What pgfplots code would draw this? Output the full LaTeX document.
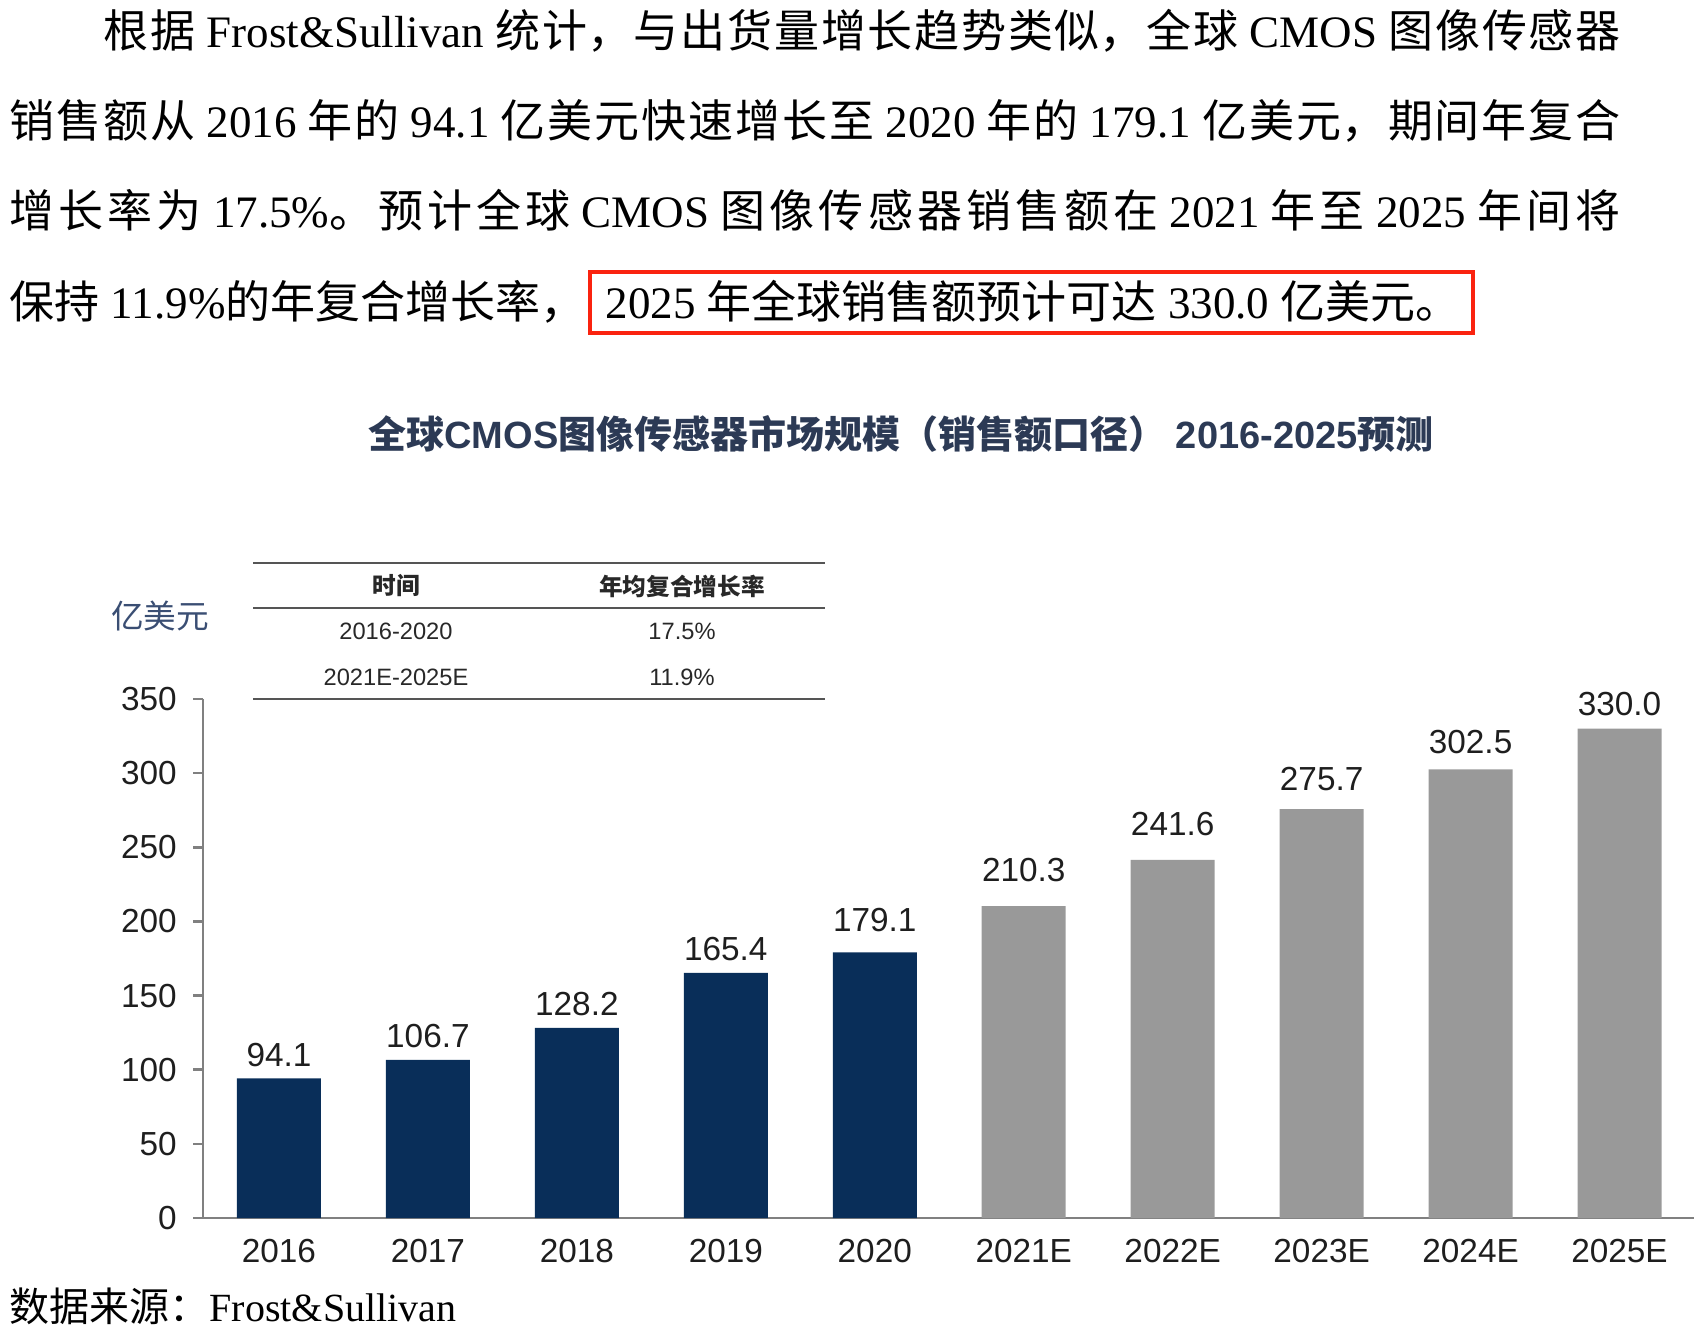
\documentclass[border=0pt]{standalone}
\usepackage{fontspec}
\usepackage{pgfplots}
\pgfplotsset{compat=1.18}
\setmainfont{Liberation Serif}
\newfontfamily\arial{Liberation Sans}
\newfontfamily\cjk{Noto Sans CJK SC}
\definecolor{navy}{RGB}{9,46,89}
\definecolor{bargray}{RGB}{153,153,153}
\definecolor{axgray}{RGB}{128,128,128}
\definecolor{titlec}{RGB}{44,58,85}
\definecolor{unitc}{RGB}{58,78,115}
\definecolor{boxred}{RGB}{250,35,15}
\definecolor{txt}{RGB}{30,30,30}
\definecolor{tabline}{RGB}{85,85,85}
\newcommand\C[1]{{\cjk #1}}
\newcommand\jline[2]{\parbox[b]{#1}{\XeTeXlinebreaklocale "zh"\XeTeXlinebreakskip=0pt plus 1fil minus 0.5pt\relax\parfillskip=0pt\relax\tolerance=10000\relax\noindent #2}}
\begin{document}
\begin{tikzpicture}
\useasboundingbox (0,0) rectangle (510.9pt,-402pt);
% paragraph
\begin{scope}[every node/.style={inner sep=0pt, anchor=base west, text=black}]
\node at (30.9pt,-14.1pt) {\fontsize{13.5}{16}\selectfont\jline{455.1pt}{\C{根据} Frost\&Sullivan \C{统计，与出货量增长趋势类似，全球} CMOS \C{图像传感器}}};
\node at (2.7pt,-41.1pt) {\fontsize{13.5}{16}\selectfont\jline{483.3pt}{\C{销售额从} 2016 \C{年的} 94.1 \C{亿美元快速增长至} 2020 \C{年的} 179.1 \C{亿美元，期间年复合}}};
\node at (2.7pt,-68.1pt) {\fontsize{13.5}{16}\selectfont\jline{483.3pt}{\C{增长率为} 17.5\%\C{。预计全球} CMOS \C{图像传感器销售额在} 2021 \C{年至} 2025 \C{年间将}}};
\node at (2.7pt,-95.4pt) {\fontsize{13.5}{16}\selectfont \C{保持} 11.9\%\C{的年复合增长率，}};
\node at (181.5pt,-95.4pt) {\fontsize{13.5}{16}\selectfont 2025 \C{年全球销售额预计可达} 330.0 \C{亿美元。}};
\end{scope}
\draw[boxred, line width=1.2pt] (177pt,-81.6pt) rectangle (441.9pt,-99.9pt);
% title
\node[inner sep=0pt, text=titlec] at (270.3pt,-130.2pt) {\bfseries\fontsize{11.4}{13}\selectfont\C{全球}{\arial CMOS}\C{图像传感器市场规模（销售额口径）} {\arial 2016-2025}\C{预测}};
% unit
\node[inner sep=0pt, text=unitc] at (48pt,-184.8pt) {\fontsize{9.8}{11}\selectfont\C{亿美元}};
% table
\draw[tabline, line width=0.8pt] (75.9pt,-168.9pt) -- (247.5pt,-168.9pt);
\draw[tabline, line width=0.8pt] (75.9pt,-182.4pt) -- (247.5pt,-182.4pt);
\draw[tabline, line width=0.8pt] (75.9pt,-209.7pt) -- (247.5pt,-209.7pt);
\begin{scope}[every node/.style={inner sep=0pt, text={rgb,255:red,40;green,40;blue,40}}]
\node at (118.8pt,-175.8pt) {\bfseries\fontsize{7.1}{8}\selectfont\C{时间}};
\node at (204.6pt,-175.8pt) {\bfseries\fontsize{7.1}{8}\selectfont\C{年均复合增长率}};
\node at (118.8pt,-189.3pt) {\arial\fontsize{7.1}{8}\selectfont 2016-2020};
\node at (204.6pt,-189.3pt) {\arial\fontsize{7.1}{8}\selectfont 17.5\%};
\node at (118.8pt,-203.1pt) {\arial\fontsize{7.1}{8}\selectfont 2021E-2025E};
\node at (204.6pt,-203.1pt) {\arial\fontsize{7.1}{8}\selectfont 11.9\%};
\end{scope}
% source
\node[inner sep=0pt, anchor=west] at (2.7pt,-391.8pt) {\fontsize{12}{14}\selectfont\C{数据来源：}Frost\&Sullivan};
\begin{axis}[
  at={(60.9pt,-365.4pt)}, anchor=south west,
  scale only axis, width=447.3pt, height=155.7pt,
  xmin=-0.51, xmax=9.5, ymin=0, ymax=350,
  axis x line*=bottom, axis y line*=left,
  axis line style={axgray, line width=0.8pt, -},
  ytick={0,50,...,350}, tick align=outside, major tick length=3pt,
  ytick style={axgray, line width=0.8pt},
  xtick={0,...,9},
  xticklabels={2016,2017,2018,2019,2020,2021E,2022E,2023E,2024E,2025E},
  xtick style={draw=none},
  ticklabel style={font=\arial\fontsize{10}{12}\selectfont, text=txt},
  xticklabel style={yshift=0.3pt},
  yticklabel style={xshift=-1.35pt},
  /pgf/number format/assume math mode=true,
  ybar, bar width=25.2pt, bar shift=0pt,
  visualization depends on={\thisrow{off}\as\laboff},
  nodes near coords={\pgfmathprintnumber[fixed,fixed zerofill,precision=1]{\pgfplotspointmeta}},
  every node near coord/.append style={font=\arial\fontsize{10}{12}\selectfont, text=txt, yshift=\laboff pt},
  clip=false,
]
\addplot[fill=navy, draw=none] table {
x y off
0 94.1 0
1 106.7 0
2 128.2 0
3 165.4 0
4 179.1 2.7
};
\addplot[fill=bargray, draw=none] table {
x y off
5 210.3 3.9
6 241.6 3.75
7 275.7 1.95
8 302.5 1.3
9 330.0 0.3
};
\end{axis}
\end{tikzpicture}
\end{document}
